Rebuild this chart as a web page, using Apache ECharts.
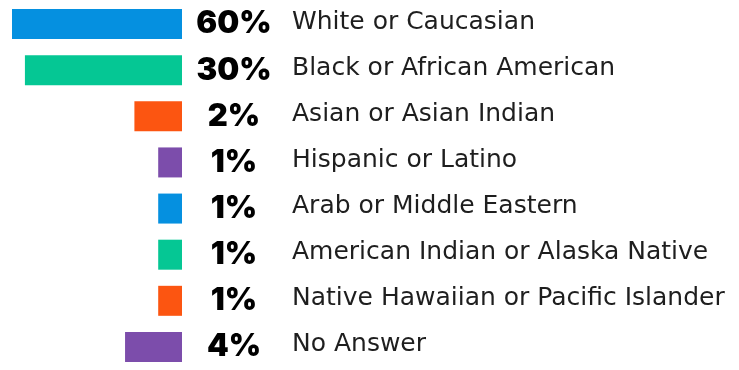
<!DOCTYPE html>
<html><head><meta charset="utf-8">
<script src="https://cdn.jsdelivr.net/npm/echarts@6/dist/echarts.min.js"></script>
<style>html,body{margin:0;padding:0;background:#fff}#c{width:739px;height:370px}</style>
</head><body><div id="c"></div>
<script>
// Categories (top to bottom)
const categories = [
  'White or Caucasian',
  'Black or African American',
  'Asian or Asian Indian',
  'Hispanic or Latino',
  'Arab or Middle Eastern',
  'American Indian or Alaska Native',
  'Native Hawaiian or Pacific Islander',
  'No Answer'
];
// Percentages shown as labels
const percents = [60, 30, 2, 1, 1, 1, 1, 4];
// Bar lengths as drawn in the infographic (not to scale, 0-100)
const barLevels = [100, 92.4, 28, 14, 14, 14, 14, 33.5];
const colors = ['#0590e0', '#05c794', '#fc5511', '#7c4dab', '#0590e0', '#05c794', '#fc5511', '#7c4dab'];

const chart = echarts.init(document.getElementById('c'), null, {renderer: 'canvas'});
chart.setOption({
  animation: false,
  backgroundColor: '#ffffff',
  grid: {left: 12, right: 557, top: 1, height: 374},
  xAxis: {type: 'value', inverse: true, min: 0, max: 100, show: false},
  yAxis: {
    type: 'category', data: categories, inverse: true, position: 'right',
    axisLine: {show: false}, axisTick: {show: false},
    axisLabel: {
      align: 'left', margin: 6,
      formatter: function (v, i) {
        return '{p|' + percents[i] + '%}{c|' + v + '}';
      },
      rich: {
        p: {width: 92, align: 'center', fontFamily: 'Inter', fontWeight: 900, fontSize: 31, color: '#000'},
        c: {fontFamily: 'DejaVu Sans', fontSize: 25, color: '#1e1e1e', padding: [0, 0, 4, 12]}
      }
    }
  },
  series: [{
    type: 'bar', barWidth: 30,
    data: barLevels.map((v, i) => ({value: v, itemStyle: {color: colors[i]}}))
  }]
});
</script></body></html>
